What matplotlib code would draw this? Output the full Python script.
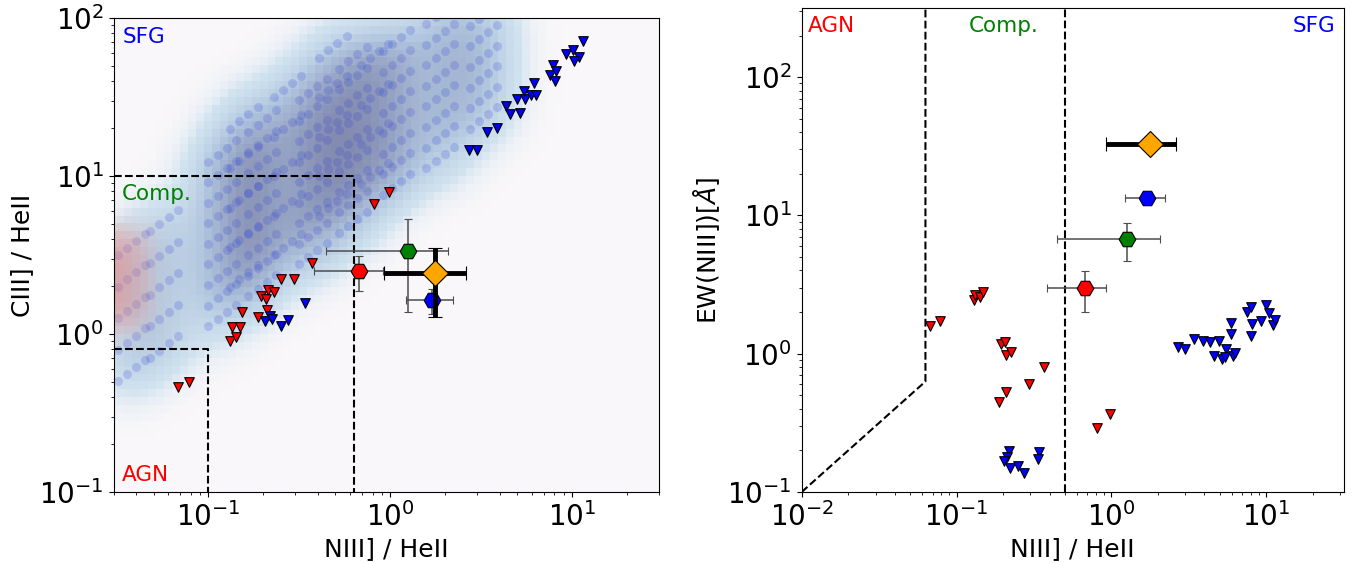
import numpy as np
import matplotlib
matplotlib.use("Agg")
import matplotlib.pyplot as plt
from matplotlib.colors import LinearSegmentedColormap

# ---------------------------------------------------------------------------
# observed upper limits (triangles): NIII]/HeII vs CIII]/HeII  (left panel)
agn_lim_n3 = [0.068, 0.078, 0.131, 0.141, 0.134, 0.149, 0.152, 0.187, 0.210,
              0.195, 0.208, 0.213, 0.229, 0.252, 0.297, 0.372, 0.82, 0.98]
agn_lim_c3 = [0.464, 0.499, 0.908, 0.953, 1.10, 1.10, 1.38, 1.28, 1.42,
              1.74, 1.66, 1.90, 1.85, 2.22, 2.22, 2.82, 6.65, 7.89]
sfg_lim_n3 = [0.204, 0.217, 0.224, 0.252, 0.274, 0.341,
              2.70, 2.99, 3.43, 3.89, 4.34, 4.56, 5.18, 4.96, 5.52, 5.47, 5.93,
              6.34, 6.18, 7.57, 7.89, 8.16, 8.07, 9.27, 10.1, 11.0, 10.3, 11.5]
sfg_lim_c3 = [1.20, 1.30, 1.24, 1.13, 1.23, 1.56,
              14.6, 14.6, 19.1, 20.2, 27.7, 24.7, 25.2, 30.7, 30.5, 34.7, 32.6,
              32.6, 38.6, 43.5, 50.4, 46.2, 40.1, 59.2, 62.6, 56.9, 53.7, 71.5]

# observed upper limits: NIII]/HeII vs EW(NIII]) (right panel)
agn_lim_n3_ew = [0.067, 0.078, 0.130, 0.132, 0.142, 0.148, 0.193, 0.206,
                 0.210, 0.226, 0.368, 0.295, 0.210, 0.187, 0.811, 0.977]
agn_lim_ew = [1.58, 1.73, 2.44, 2.66, 2.56, 2.81, 1.17, 1.22,
              0.98, 1.03, 0.80, 0.60, 0.53, 0.45, 0.289, 0.366]
sfg_lim_n3_ew = [0.217, 0.213, 0.202, 0.222, 0.250, 0.272, 0.340, 0.335,
                 2.70, 3.00, 3.43, 3.89, 4.35, 4.94, 4.59, 5.22, 5.47, 5.41,
                 5.89, 5.89, 6.08, 6.31, 7.57, 7.94, 8.11, 8.02, 9.31, 10.0,
                 10.4, 11.0, 11.5]
sfg_lim_ew = [0.199, 0.180, 0.167, 0.150, 0.154, 0.138, 0.195, 0.174,
              1.12, 1.08, 1.28, 1.24, 1.21, 1.24, 0.97, 0.91, 1.08, 0.95,
              1.66, 1.39, 0.97, 1.02, 2.01, 2.19, 1.64, 1.35, 1.72, 2.24,
              1.96, 1.61, 1.75]

# stacked measurements: value, low, high
stack_colors = ["red", "green", "blue"]
stack_n3 = [0.677, 1.26, 1.71]
stack_n3_lo = [0.382, 0.444, 1.22]
stack_n3_hi = [0.918, 2.07, 2.23]
stack_c3 = [2.51, 3.35, 1.64]
stack_c3_lo = [1.88, 1.37, 1.34]
stack_c3_hi = [3.12, 5.32, 1.94]
stack_ew = [3.00, 6.79, 13.3]
stack_ew_lo = [1.99, 4.70, 13.3]
stack_ew_hi = [3.96, 8.77, 13.3]

# target object (orange diamond)
obj_n3, obj_n3_lo, obj_n3_hi = 1.77, 0.93, 2.61
obj_c3, obj_c3_lo, obj_c3_hi = 2.44, 1.28, 3.51
obj_ew = 32.8

# photoionisation model grid (log10), star-forming: column positions,
# track start values and the offsets along each track
sfg_col_logx = [-1.50, -1.32, -1.00, -0.88, -0.78, -0.64, -0.50, -0.39,
                -0.28, -0.16, -0.04, 0.20, 0.44]
sfg_col_starts = [
    [-0.30, -0.10, 0.10, 0.30, 0.50],
    [-0.15, 0.05, 0.25, 0.45, 0.65],
    [0.05, 0.18, 0.31, 0.44, 0.57, 0.70, 0.83, 0.96, 1.09],
    [0.30, 0.55, 0.80, 1.05, 1.30],
    [0.24, 0.37, 0.50, 0.63, 0.76, 0.89, 1.02, 1.15, 1.28],
    [0.50, 0.75, 1.00, 1.25, 1.50],
    [0.44, 0.57, 0.70, 0.83, 0.96, 1.09, 1.22, 1.35, 1.48],
    [0.75, 1.00, 1.25, 1.50, 1.75],
    [0.64, 0.77, 0.90, 1.03, 1.16, 1.29, 1.42, 1.55, 1.68],
    [0.95, 1.20, 1.45, 1.70],
    [0.88, 1.01, 1.14, 1.27, 1.40, 1.53, 1.66, 1.79],
    [1.05, 1.18, 1.31, 1.44, 1.57, 1.70, 1.83, 1.96],
    [1.30, 1.43, 1.56, 1.69, 1.82, 1.95],
]
track_dlogx = [0.0, 0.05, 0.10, 0.15]
track_dlogy = [0.0, 0.045, 0.09, 0.135]

# AGN models (log10), only visible as density at the left edge
agn_model_logx = [-1.70, -1.62, -1.55, -1.48, -1.41,
                  -1.70, -1.62, -1.55, -1.48, -1.41,
                  -1.70, -1.62, -1.55, -1.48, -1.41,
                  -1.70, -1.62, -1.55, -1.48, -1.41]
agn_model_logy = [0.12, 0.12, 0.12, 0.12, 0.12,
                  0.27, 0.27, 0.27, 0.27, 0.27,
                  0.42, 0.42, 0.42, 0.42, 0.42,
                  0.57, 0.57, 0.57, 0.57, 0.57]

# classification boundaries
left_comp_x, left_comp_y = [0.03, 0.63, 0.63], [10, 10, 0.1]
left_agn_x, left_agn_y = [0.03, 0.1, 0.1], [0.8, 0.8, 0.1]
right_agn_x, right_agn_y = [0.01, 0.063, 0.063], [0.1, 0.63, 400]
right_sfg_x = 0.5

# ---------------------------------------------------------------------------
mx, my = [], []
for cx, starts in zip(sfg_col_logx, sfg_col_starts):
    for s in starts:
        for dx, dy in zip(track_dlogx, track_dlogy):
            mx.append(cx + dx)
            my.append(s + dy)
mx, my = np.array(mx), np.array(my)


def smooth_density(lx, ly, xe, ye, sig):
    h, _, _ = np.histogram2d(lx, ly, bins=[xe, ye])
    k = np.exp(-0.5 * (np.arange(-12, 13) / sig) ** 2)
    k /= k.sum()
    h = np.apply_along_axis(lambda r: np.convolve(r, k, mode="same"), 0, h)
    h = np.apply_along_axis(lambda r: np.convolve(r, k, mode="same"), 1, h)
    return h / h.max()


cloud_cmap = LinearSegmentedColormap.from_list("cloud", [
    (0.0, (0.70, 0.83, 0.92, 0.0)),
    (0.15, (0.62, 0.79, 0.89, 0.45)),
    (0.5, (0.50, 0.64, 0.80, 0.60)),
    (1.0, (0.40, 0.44, 0.62, 0.80)),
])
agn_cmap = LinearSegmentedColormap.from_list("agn", [
    (0.0, (0.98, 0.72, 0.68, 0.0)),
    (0.4, (0.94, 0.56, 0.52, 0.30)),
    (1.0, (0.90, 0.40, 0.38, 0.50)),
])

xe = np.linspace(-1.9, 1.6, 81)
ye = np.linspace(-1.3, 2.2, 71)
dens_sfg = smooth_density(mx, my, xe, ye, 3.0)
dens_agn = smooth_density(np.array(agn_model_logx), np.array(agn_model_logy),
                          xe, ye, 2.0)

W, H = 1367, 563
fig = plt.figure(figsize=(W / 100, H / 100), dpi=100)
ax1 = fig.add_axes([113.5 / W, 71 / H, 545 / W, 474 / H])
ax2 = fig.add_axes([801.7 / W, 71 / H, 541.8 / W, 484 / H])

# ---- left panel -----------------------------------------------------------
ax1.set_facecolor("#f9f7f9")
ax1.pcolormesh(10 ** xe, 10 ** ye, dens_sfg.T, cmap=cloud_cmap,
               vmin=0, vmax=1.0, zorder=0, shading="flat")
ax1.scatter(10 ** mx, 10 ** my, s=42, color="#3040d8", alpha=0.2, lw=0,
            zorder=1)
ax1.pcolormesh(10 ** xe, 10 ** ye, dens_agn.T, cmap=agn_cmap,
               vmin=0, vmax=1.0, zorder=2, shading="flat")

ax1.plot(left_comp_x, left_comp_y, "k--", lw=1.5, zorder=3)
ax1.plot(left_agn_x, left_agn_y, "k--", lw=1.5, zorder=3)

ax1.scatter(agn_lim_n3, agn_lim_c3, marker="v", s=48, c="red",
            edgecolors="k", linewidths=0.8, zorder=4)
ax1.scatter(sfg_lim_n3, sfg_lim_c3, marker="v", s=48, c="blue",
            edgecolors="k", linewidths=0.8, zorder=4)

for i in range(3):
    ax1.errorbar(stack_n3[i], stack_c3[i],
                 xerr=[[stack_n3[i] - stack_n3_lo[i]], [stack_n3_hi[i] - stack_n3[i]]],
                 yerr=[[stack_c3[i] - stack_c3_lo[i]], [stack_c3_hi[i] - stack_c3[i]]],
                 fmt="H", ms=12, mfc=stack_colors[i], mec="k", mew=0.8,
                 ecolor="0.3", elinewidth=1.1, capsize=3, zorder=5)
ax1.errorbar(obj_n3, obj_c3,
             xerr=[[obj_n3 - obj_n3_lo], [obj_n3_hi - obj_n3]],
             yerr=[[obj_c3 - obj_c3_lo], [obj_c3_hi - obj_c3]],
             fmt="D", ms=13, mfc="orange", mec="k", mew=0.8,
             ecolor="k", elinewidth=3.5, capsize=5, capthick=1.5, zorder=6)

ax1.text(0.016, 0.948, "SFG", color="blue", fontsize=15.5, transform=ax1.transAxes)
ax1.text(0.016, 0.616, "Comp.", color="green", fontsize=15.5, transform=ax1.transAxes)
ax1.text(0.016, 0.023, "AGN", color="red", fontsize=15.5, transform=ax1.transAxes)

ax1.set_xscale("log")
ax1.set_yscale("log")
ax1.set_xlim(0.03, 30)
ax1.set_ylim(0.1, 100)
ax1.set_xlabel("NIII] / HeII", fontsize=18)
ax1.set_ylabel("CIII] / HeII", fontsize=18)

# ---- right panel ----------------------------------------------------------
ax2.plot(right_agn_x, right_agn_y, "k--", lw=1.5, zorder=3)
ax2.axvline(right_sfg_x, color="k", ls="--", lw=1.5, zorder=3)

ax2.scatter(agn_lim_n3_ew, agn_lim_ew, marker="v", s=48, c="red",
            edgecolors="k", linewidths=0.8, zorder=4)
ax2.scatter(sfg_lim_n3_ew, sfg_lim_ew, marker="v", s=48, c="blue",
            edgecolors="k", linewidths=0.8, zorder=4)

for i in range(3):
    ax2.errorbar(stack_n3[i], stack_ew[i],
                 xerr=[[stack_n3[i] - stack_n3_lo[i]], [stack_n3_hi[i] - stack_n3[i]]],
                 yerr=[[stack_ew[i] - stack_ew_lo[i]], [stack_ew_hi[i] - stack_ew[i]]],
                 fmt="H", ms=12, mfc=stack_colors[i], mec="k", mew=0.8,
                 ecolor="0.3", elinewidth=1.1, capsize=3, zorder=5)
ax2.errorbar(obj_n3, obj_ew,
             xerr=[[obj_n3 - obj_n3_lo], [obj_n3_hi - obj_n3]],
             fmt="D", ms=13, mfc="orange", mec="k", mew=0.8,
             ecolor="k", elinewidth=3.5, capsize=5, capthick=1.5, zorder=6)

ax2.text(0.0114, 0.951, "AGN", color="red", fontsize=15.5, transform=ax2.transAxes)
ax2.text(0.308, 0.951, "Comp.", color="green", fontsize=15.5, transform=ax2.transAxes)
ax2.text(0.985, 0.951, "SFG", color="blue", fontsize=15.5, ha="right",
         transform=ax2.transAxes)

ax2.set_xscale("log")
ax2.set_yscale("log")
ax2.set_xlim(0.01, 10 ** 1.5)
ax2.set_ylim(0.1, 10 ** 2.5)
ax2.set_xlabel("NIII] / HeII", fontsize=18)
ax2.set_ylabel(r"EW(NIII])[$\AA$]", fontsize=18)

for ax in (ax1, ax2):
    ax.tick_params(labelsize=20)

fig.savefig("out.png", dpi=100)
